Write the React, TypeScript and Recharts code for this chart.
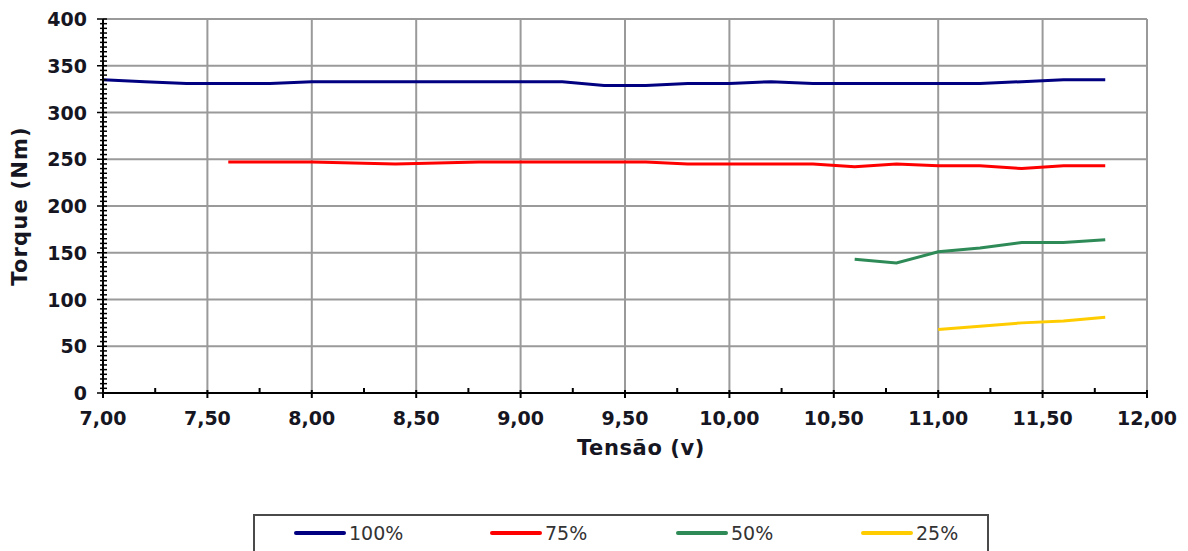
import { LineChart, Line, XAxis, YAxis, CartesianGrid, Legend, Label } from 'recharts';

// tensão (v) – pontos medidos
const tensao = [7.0, 7.2, 7.4, 7.6, 7.8, 8.0, 8.2, 8.4, 8.6, 8.8, 9.0, 9.2, 9.4, 9.6, 9.8, 10.0, 10.2, 10.4, 10.6, 10.8, 11.0, 11.2, 11.4, 11.6, 11.8];

// torque (Nm) por carga
const torque100 = [335, 333, 331, 331, 331, 333, 333, 333, 333, 333, 333, 333, 329, 329, 331, 331, 333, 331, 331, 331, 331, 331, 333, 335, 335];
const torque75 = [null, null, null, 247, 247, 247, 246, 245, 246, 247, 247, 247, 247, 247, 245, 245, 245, 245, 242, 245, 243, 243, 240, 243, 243];
const torque50 = [null, null, null, null, null, null, null, null, null, null, null, null, null, null, null, null, null, null, 143, 139, 151, 155, 161, 161, 164];
const torque25 = [null, null, null, null, null, null, null, null, null, null, null, null, null, null, null, null, null, null, null, null, 68, 71.5, 75, 77, 81];

const seriesNames = ['100%', '75%', '50%', '25%'];
const seriesColors = ['#000080', '#ff0000', '#2e8b57', '#ffcc00'];

const xMajor = [7, 7.5, 8, 8.5, 9, 9.5, 10, 10.5, 11, 11.5, 12];
const yMajor = [0, 50, 100, 150, 200, 250, 300, 350, 400];

const xTicks: number[] = [];
for (let v = 7; v <= 12.001; v += 0.25) xTicks.push(Math.round(v * 100) / 100);
const yTicks: number[] = [];
for (let v = 0; v <= 400; v += 5) yTicks.push(v);

const data = tensao.map((t, i) => ({
  t,
  s0: torque100[i],
  s1: torque75[i],
  s2: torque50[i],
  s3: torque25[i],
}));

const font = '"DejaVu Sans", Verdana, sans-serif';
const textColor = '#161622';
const legendLeft = [39, 235, 421, 606];

const XTick = ({ x, y, payload }: any) => {
  const v = payload.value;
  const major = xMajor.some((m) => Math.abs(m - v) < 1e-6);
  return (
    <g>
      {major ? (
        <line x1={x} x2={x} y1={y - 3} y2={y + 5} stroke="#000" strokeWidth={2} />
      ) : (
        <line x1={x} x2={x} y1={y - 5} y2={y} stroke="#000" strokeWidth={2} />
      )}
      {major && (
        <text x={x} y={y + 32} textAnchor="middle" fontFamily={font} fontWeight="bold" fontSize={19} fill={textColor}>
          {v.toFixed(2).replace('.', ',')}
        </text>
      )}
    </g>
  );
};

const YTick = ({ x, y, payload }: any) => {
  const v = payload.value;
  const major = v % 50 === 0;
  return (
    <g>
      <line x1={major ? x - 6 : x - 3} x2={x + 4} y1={y} y2={y} stroke="#000" strokeWidth={1.5} />
      {major && (
        <text x={x - 16} y={y + 7} textAnchor="end" fontFamily={font} fontWeight="bold" fontSize={19} fill={textColor}>
          {v}
        </text>
      )}
    </g>
  );
};

const LegendBox = () => (
  <div
    style={{
      position: 'relative',
      width: 736,
      height: 44,
      border: '2px solid #4a4a4a',
      boxSizing: 'border-box',
      fontFamily: font,
      fontSize: 19,
      color: '#333',
    }}
  >
    {seriesNames.map((n, i) => (
      <div
        key={n}
        style={{ position: 'absolute', left: legendLeft[i], top: 4, display: 'flex', alignItems: 'center', height: 26 }}
      >
        <span style={{ display: 'inline-block', width: 52, height: 4, borderRadius: 2, background: seriesColors[i], marginRight: 3 }} />
        <span>{n}</span>
      </div>
    ))}
  </div>
);

export default function App() {
  return (
    <div style={{ position: 'absolute', left: 0, top: 0, width: 1188, height: 551, background: '#fff', overflow: 'hidden' }}>
      <LineChart width={1188} height={551} data={data} margin={{ top: 19, right: 41, left: 43, bottom: 54 }}>
        <CartesianGrid stroke="#9a9a9a" strokeWidth={2} horizontalValues={yMajor} verticalValues={xMajor} />
        <XAxis
          dataKey="t"
          type="number"
          domain={[7, 12]}
          ticks={xTicks}
          interval={0}
          height={60}
          tickSize={0}
          tickMargin={0}
          tickLine={false}
          axisLine={{ stroke: '#000', strokeWidth: 2 }}
          tick={<XTick />}
        >
          <Label
            content={({ viewBox }: any) => (
              <text
                x={viewBox.x + viewBox.width / 2 + 16}
                y={viewBox.y + 62}
                textAnchor="middle"
                fontFamily={font}
                fontWeight="bold"
                fontSize={21}
                letterSpacing={0.6}
                fill={textColor}
              >
                Tensão (v)
              </text>
            )}
          />
        </XAxis>
        <YAxis
          type="number"
          domain={[0, 400]}
          ticks={yTicks}
          interval={0}
          width={60}
          tickSize={0}
          tickMargin={0}
          tickLine={false}
          axisLine={{ stroke: '#000', strokeWidth: 2 }}
          tick={<YTick />}
        >
          <Label
            content={({ viewBox }: any) => {
              const cx = 27;
              const cy = viewBox.y + viewBox.height / 2;
              return (
                <text
                  x={cx}
                  y={cy}
                  transform={`rotate(-90, ${cx}, ${cy})`}
                  textAnchor="middle"
                  fontFamily={font}
                  fontWeight="bold"
                  fontSize={21}
                  letterSpacing={1.2}
                  fill={textColor}
                >
                  Torque (Nm)
                </text>
              );
            }}
          />
        </YAxis>
        {seriesNames.map((n, i) => (
          <Line
            key={n}
            name={n}
            dataKey={`s${i}`}
            stroke={seriesColors[i]}
            strokeWidth={3}
            dot={false}
            activeDot={false}
            isAnimationActive={false}
          />
        ))}
        <Legend
          layout="vertical"
          align="center"
          verticalAlign="bottom"
          content={<LegendBox />}
          wrapperStyle={{ left: 253, top: 514, bottom: 'auto', width: 736 }}
        />
      </LineChart>
    </div>
  );
}
